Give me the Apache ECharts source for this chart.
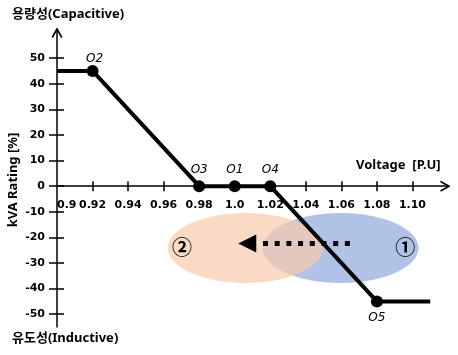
<!DOCTYPE html>
<html><head><meta charset="utf-8">
<script src="https://cdn.jsdelivr.net/npm/echarts@6/dist/echarts.min.js"></script>
<style>html,body{margin:0;padding:0;background:#fff}#c{width:458px;height:355px}</style>
</head><body><div id="c"></div>
<script>
// ---- data ----
const pointNames = ['', 'O2', 'O3', 'O1', 'O4', 'O5', ''];
const voltage = [0.9, 0.92, 0.98, 1.0, 1.02, 1.08, 1.11];
const kvaRating = [45, 45, 0, 0, 0, -45, -45];
const xLabelValues = [0.9, 0.92, 0.94, 0.96, 0.98, 1.0, 1.02, 1.04, 1.06, 1.08, 1.10];
const xTickLabels = ['0.9', '0.92', '0.94', '0.96', '0.98', '1.0', '1.02', '1.04', '1.06', '1.08', '1.10'];
const xTickValues = [0.92, 0.94, 0.96, 0.98, 1.0, 1.02, 1.04, 1.06, 1.08, 1.10];
const yTickValues = [-50, -40, -30, -20, -10, 0, 10, 20, 30, 40, 50];
const yTickLabels = ['-50', '-40', '-30', '-20', '-10', '0', '10', '20', '30', '40', '50'];

const chart = echarts.init(document.getElementById('c'), null, {renderer: 'canvas'});
const tickFont = {fontFamily: 'DejaVu Sans', fontWeight: 'bold', fontSize: 11, color: '#000'};
const axisLineStyle = {color: '#000', width: 1.5};
const X_MIN = 0.9, X_MAX = 1.12, Y_MIN = -55, Y_MAX = 61;

function xLabel(v) {
  for (let i = 0; i < xLabelValues.length; i++) {
    if (Math.abs(xLabelValues[i] - v) < 1e-6) return xTickLabels[i];
  }
  return '';
}
function yLabel(v) {
  for (let i = 0; i < yTickValues.length; i++) {
    if (Math.abs(yTickValues[i] - v) < 1e-6) return yTickLabels[i];
  }
  return '';
}

const seriesData = voltage.map((v, i) => {
  const d = {value: [v, kvaRating[i]], name: pointNames[i]};
  if (!pointNames[i]) { d.symbol = 'none'; d.label = {show: false}; }
  if (pointNames[i] === 'O5') d.label = {position: 'bottom', distance: 4};
  if (pointNames[i] === 'O2') d.label = {distance: 0, offset: [2, 0]};
  return d;
});

function makeXAxes(off) {
  return [{
    type: 'value', position: 'bottom', min: X_MIN, max: X_MAX, offset: off,
    axisLine: {show: true, onZero: false, lineStyle: axisLineStyle},
    axisTick: {show: true, inside: false, length: 5, lineStyle: axisLineStyle, customValues: xTickValues},
    axisLabel: Object.assign({show: true, margin: 13, customValues: xLabelValues, formatter: xLabel, alignMinLabel: 'left'}, tickFont),
    splitLine: {show: false}
  }, {
    type: 'value', position: 'bottom', min: X_MIN, max: X_MAX, offset: off,
    axisLine: {show: false, onZero: false},
    axisTick: {show: true, inside: true, length: 5, lineStyle: axisLineStyle, customValues: xTickValues},
    axisLabel: {show: false},
    splitLine: {show: false}
  }];
}

const GRID = {left: 57, right: 10, top: 30, bottom: 28};
chart.setOption({
  animation: false,
  backgroundColor: '#fff',
  grid: GRID,
  xAxis: makeXAxes(0),
  yAxis: [{
    type: 'value', position: 'left', min: Y_MIN, max: Y_MAX,
    axisLine: {show: true, onZero: false, lineStyle: axisLineStyle},
    axisTick: {show: true, inside: false, length: 8, lineStyle: axisLineStyle, customValues: yTickValues},
    axisLabel: Object.assign({show: true, margin: 12, customValues: yTickValues, formatter: yLabel}, tickFont),
    splitLine: {show: false}
  }, {
    type: 'value', position: 'left', min: Y_MIN, max: Y_MAX,
    axisLine: {show: false, onZero: false},
    axisTick: {show: true, inside: true, length: 7, lineStyle: axisLineStyle, customValues: yTickValues},
    axisLabel: {show: false},
    splitLine: {show: false}
  }],
  series: [{
    type: 'line', xAxisIndex: 0, yAxisIndex: 0, z: 3,
    data: seriesData,
    showSymbol: true, showAllSymbol: true,
    symbol: 'circle', symbolSize: 12,
    itemStyle: {color: '#000'},
    lineStyle: {color: '#000', width: 4},
    label: {show: true, position: 'top', distance: 4, formatter: '{b}', fontFamily: 'DejaVu Sans', fontStyle: 'italic', fontSize: 12, color: '#000'}
  }]
});

// move the x axis onto y = 0
function px(x, y) { return chart.convertToPixel({gridIndex: 0}, [x, y]); }
const zeroY = px(X_MIN, 0)[1];
const bottomY = px(X_MIN, Y_MIN)[1];
chart.setOption({xAxis: makeXAxes(zeroY - bottomY)});

// ---- annotations (positions derived via the axes) ----
const oC = px(1.006, -24.1), bC = px(1.0595, -24.1);
const aTip = px(1.002, -22.4), aBase = px(1.0121, -22.4), aStart = px(1.0159, -22.4), aEnd = px(1.0662, -22.4);
const n2 = px(0.9704, -24.1), n1 = px(1.096, -24.1);
const headHalf = 9;
const titleFont = {fontFamily: 'Noto Sans, Noto Sans CJK KR', fontWeight: 'bold', fontSize: 13, fill: '#000'};
const W = chart.getWidth();
const tx = GRID.left, ty = GRID.top - 1, ex = W - GRID.right + 1, ey = zeroY;
function arm(x1, y1, x2, y2) {
  return {type: 'line', z: 20, silent: true, shape: {x1: x1, y1: y1, x2: x2, y2: y2}, style: {stroke: '#000', lineWidth: 1.6, lineCap: 'round'}};
}

chart.setOption({
  graphic: [
    {type: 'ellipse', z: 1, silent: true, shape: {cx: bC[0], cy: bC[1], rx: 78, ry: 35}, style: {fill: 'rgba(143,170,220,0.7)'}},
    {type: 'ellipse', z: 1, z2: 5, silent: true, shape: {cx: oC[0], cy: oC[1], rx: 77.5, ry: 35}, style: {fill: 'rgba(248,203,173,0.7)'}},
    {type: 'line', z: 10, silent: true, shape: {x1: aStart[0], y1: aStart[1], x2: aEnd[0], y2: aEnd[1]}, style: {stroke: '#000', lineWidth: 5, lineDash: [5, 6.7]}},
    {type: 'polygon', z: 10, silent: true, shape: {points: [[aTip[0], aTip[1]], [aBase[0], aBase[1] - headHalf], [aBase[0], aBase[1] + headHalf]]}, style: {fill: '#000'}},
    arm(tx - 4.5, ty + 8, tx, ty),
    arm(tx + 4.5, ty + 8, tx, ty),
    arm(ex - 8, ey - 4.5, ex, ey),
    arm(ex - 8, ey + 4.5, ex, ey),
    {type: 'text', z: 10, silent: true, style: {text: '\u2461', x: n2[0], y: n2[1], align: 'center', verticalAlign: 'middle', textAlign: 'center', textVerticalAlign: 'middle', fontFamily: 'Noto Sans CJK KR', fontWeight: 'bold', fontSize: 20, fill: '#000'}},
    {type: 'text', z: 10, silent: true, style: {text: '\u2460', x: n1[0], y: n1[1], align: 'center', verticalAlign: 'middle', textAlign: 'center', textVerticalAlign: 'middle', fontFamily: 'Noto Sans CJK KR', fontWeight: 'bold', fontSize: 20, fill: '#000'}},
    {type: 'text', z: 10, silent: true, style: Object.assign({text: '용량성(Capacitive)', x: 12, y: 14, align: 'left', verticalAlign: 'middle', textAlign: 'left', textVerticalAlign: 'middle'}, titleFont)},
    {type: 'text', z: 10, silent: true, style: Object.assign({text: '유도성(Inductive)', x: 12, y: 338, align: 'left', verticalAlign: 'middle', textAlign: 'left', textVerticalAlign: 'middle'}, titleFont)},
    {type: 'text', z: 10, silent: true, x: 356, y: 165, style: Object.assign({text: 'Voltage  [P.U]', x: 0, y: 0, align: 'left', verticalAlign: 'middle', textAlign: 'left', textVerticalAlign: 'middle'}, titleFont)},
    {type: 'text', z: 10, silent: true, x: 13, y: 180, rotation: Math.PI / 2, style: Object.assign({text: 'kVA Rating [%]', x: 0, y: 0, align: 'center', verticalAlign: 'middle', textAlign: 'center', textVerticalAlign: 'middle'}, titleFont)}
  ]
});
</script>
</body></html>
